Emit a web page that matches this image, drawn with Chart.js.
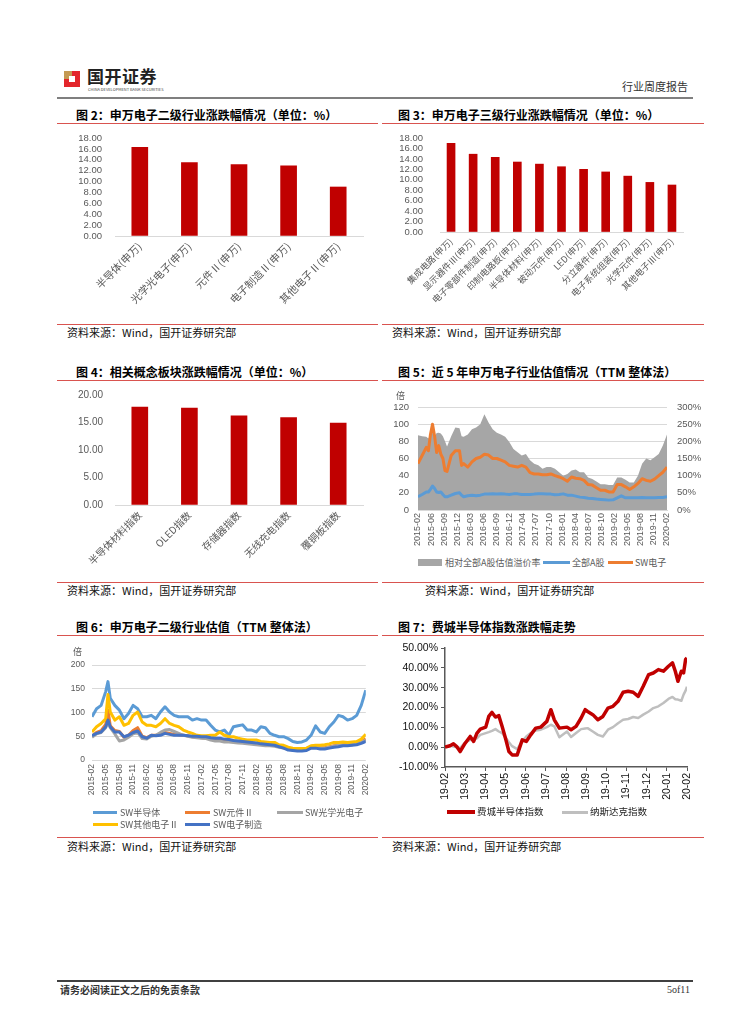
<!DOCTYPE html>
<html><head><meta charset="utf-8">
<script src="https://cdn.jsdelivr.net/npm/chart.js@4.4.0/dist/chart.umd.min.js"></script>
<style>
body{margin:0;background:#fff;}
#page{position:relative;width:754px;height:1024px;overflow:hidden;font-family:'Noto Sans CJK SC',sans-serif;background:#fff;}
.title{position:absolute;font-size:12px;font-weight:bold;color:#000;white-space:nowrap;line-height:14px;}
.rl{position:absolute;height:1px;background:#D9534F;}
.src{position:absolute;font-size:11px;color:#111;white-space:nowrap;line-height:13px;}
canvas{position:absolute;}
.lg{position:absolute;font-size:9px;color:#595959;white-space:nowrap;line-height:11px;}
.sw{position:absolute;}
</style></head><body><div id="page">

<!-- header -->
<div style="position:absolute;left:64px;top:71px;width:16px;height:16px;background:#C49A53;"></div>
<div style="position:absolute;left:72px;top:71px;width:8px;height:16px;background:#E3262B;"></div>
<div style="position:absolute;left:64px;top:79px;width:8px;height:8px;background:#E3262B;"></div>
<div style="position:absolute;left:69px;top:76px;width:6px;height:6px;background:#fff;"></div>
<div style="position:absolute;left:87px;top:66px;font-size:17px;font-weight:bold;color:#222;line-height:20px;letter-spacing:0.5px;white-space:nowrap;">国开证券</div>
<div style="position:absolute;left:88px;top:87px;font-size:4px;color:#444;line-height:5px;white-space:nowrap;">CHINA DEVELOPMENT BANK SECURITIES</div>
<div style="position:absolute;left:622px;top:80px;font-size:11px;color:#333;line-height:13px;white-space:nowrap;">行业周度报告</div>
<div style="position:absolute;left:57px;top:97px;width:636px;height:2px;background:#7F7F7F;"></div>

<!-- titles and rules -->
<div class="title" style="left:76px;top:108px;">图 2：申万电子二级行业涨跌幅情况（单位：%）</div>
<div class="title" style="left:398px;top:108px;">图 3：申万电子三级行业涨跌幅情况（单位：%）</div>
<div class="rl" style="left:57px;top:123px;width:321px;"></div>
<div class="rl" style="left:382px;top:123px;width:322px;"></div>
<div class="rl" style="left:57px;top:324px;width:321px;"></div>
<div class="rl" style="left:382px;top:324px;width:322px;"></div>
<div class="src" style="left:67px;top:326px;">资料来源：Wind，国开证券研究部</div>
<div class="src" style="left:392px;top:326px;">资料来源：Wind，国开证券研究部</div>

<div class="title" style="left:76px;top:365px;">图 4：相关概念板块涨跌幅情况（单位：%）</div>
<div class="title" style="left:398px;top:365px;">图 5：近 5 年申万电子行业估值情况（TTM 整体法）</div>
<div class="rl" style="left:57px;top:380px;width:321px;"></div>
<div class="rl" style="left:382px;top:380px;width:322px;"></div>
<div class="rl" style="left:57px;top:582px;width:321px;"></div>
<div class="rl" style="left:382px;top:582px;width:322px;"></div>
<div class="src" style="left:67px;top:584px;">资料来源：Wind，国开证券研究部</div>
<div class="src" style="left:425px;top:584px;">资料来源：Wind，国开证券研究部</div>

<div class="title" style="left:76px;top:620px;">图 6：申万电子二级行业估值（TTM 整体法）</div>
<div class="title" style="left:398px;top:620px;">图 7：费城半导体指数涨跌幅走势</div>
<div class="rl" style="left:57px;top:635px;width:321px;"></div>
<div class="rl" style="left:382px;top:635px;width:322px;"></div>
<div class="rl" style="left:57px;top:837px;width:321px;"></div>
<div class="rl" style="left:382px;top:837px;width:322px;"></div>
<div class="src" style="left:67px;top:840px;">资料来源：Wind，国开证券研究部</div>
<div class="src" style="left:392px;top:840px;">资料来源：Wind，国开证券研究部</div>

<!-- canvases -->
<canvas id="c2" width="320" height="188" style="left:60px;top:128px;"></canvas>
<canvas id="c3" width="320" height="184" style="left:380px;top:128px;"></canvas>
<canvas id="c4" width="320" height="195" style="left:60px;top:385px;"></canvas>
<canvas id="c5" width="330" height="153" style="left:380px;top:397px;"></canvas>
<canvas id="c6" width="320" height="145" style="left:60px;top:655px;"></canvas>
<canvas id="c7" width="330" height="165" style="left:380px;top:638px;"></canvas>

<!-- unit labels -->
<div class="lg" style="left:396px;top:390px;">倍</div>
<div class="lg" style="left:73px;top:646px;">倍</div>

<!-- fig 5 legend -->
<div class="sw" style="left:418px;top:559px;width:24px;height:7px;background:#A6A6A6;"></div>
<div class="lg" style="left:445px;top:557px;">相对全部A股估值溢价率</div>
<div class="sw" style="left:543px;top:561px;width:27px;height:3px;background:#5B9BD5;"></div>
<div class="lg" style="left:572px;top:557px;">全部A股</div>
<div class="sw" style="left:608px;top:561px;width:25px;height:3px;background:#ED7D31;"></div>
<div class="lg" style="left:635px;top:557px;">SW电子</div>

<!-- fig 6 legend -->
<div class="sw" style="left:93px;top:811px;width:24px;height:3px;background:#5B9BD5;"></div>
<div class="lg" style="left:120px;top:807px;">SW半导体</div>
<div class="sw" style="left:185px;top:811px;width:25px;height:3px;background:#ED7D31;"></div>
<div class="lg" style="left:213px;top:807px;">SW元件Ⅱ</div>
<div class="sw" style="left:277px;top:811px;width:26px;height:3px;background:#A5A5A5;"></div>
<div class="lg" style="left:305px;top:807px;">SW光学光电子</div>
<div class="sw" style="left:93px;top:823px;width:25px;height:3px;background:#FFC000;"></div>
<div class="lg" style="left:120px;top:819px;">SW其他电子Ⅱ</div>
<div class="sw" style="left:185px;top:823px;width:25px;height:3px;background:#4472C4;"></div>
<div class="lg" style="left:213px;top:819px;">SW电子制造</div>

<!-- fig 7 legend -->
<div class="sw" style="left:447px;top:810px;width:28px;height:4px;background:#C00000;"></div>
<div class="lg" style="left:477px;top:806px;font-size:9.5px;color:#222;">费城半导体指数</div>
<div class="sw" style="left:562px;top:811px;width:26px;height:3px;background:#BFBFBF;"></div>
<div class="lg" style="left:590px;top:806px;font-size:9.5px;color:#222;">纳斯达克指数</div>

<!-- footer -->
<div style="position:absolute;left:57px;top:980px;width:636px;height:2px;background:#404040;"></div>
<div style="position:absolute;left:60px;top:984px;font-size:10px;font-weight:bold;color:#333;line-height:12px;white-space:nowrap;">请务必阅读正文之后的免责条款</div>
<div style="position:absolute;right:64px;top:984px;font-size:10px;color:#333;line-height:12px;font-family:'Liberation Serif',serif;white-space:nowrap;">5of11</div>

</div>
<script>
const CJK = "'Noto Sans CJK SC', sans-serif";
const LAT = "'Liberation Sans', Arial, sans-serif";

// ---- Figure 2 ----
const fig2Categories = ['半导体(申万)','光学光电子(申万)','元件Ⅱ(申万)','电子制造Ⅱ(申万)','其他电子Ⅱ(申万)'];
const fig2Values = [16.3, 13.5, 13.1, 12.9, 9.0];

// ---- Figure 3 ----
const fig3Categories = ['集成电路(申万)','显示器件Ⅲ(申万)','电子零部件制造(申万)','印制电路板(申万)','半导体材料(申万)','被动元件(申万)','LED(申万)','分立器件(申万)','电子系统组装(申万)','光学元件(申万)','其他电子Ⅲ(申万)'];
const fig3Values = [17.0, 14.9, 14.3, 13.4, 13.0, 12.5, 12.0, 11.5, 10.7, 9.5, 9.0];

// ---- Figure 4 ----
const fig4Categories = ['半导体材料指数','OLED指数','存储器指数','无线充电指数','覆铜板指数'];
const fig4Values = [17.8, 17.6, 16.2, 15.9, 14.9];

// ---- Figure 5 (months since 2015-02) ----
const fig5TickLabels = ['2015-02','2015-06','2015-09','2015-12','2016-03','2016-06','2016-09','2016-12','2017-04','2017-07','2017-10','2018-01','2018-04','2018-07','2018-10','2019-02','2019-05','2019-08','2019-11','2020-02'];
const fig5Months = [0,1,2,2.5,3,3.5,4,4.5,5,5.5,6,6.5,7,8,9,10,10.5,11,
  12,13,14,15,16,17,18,19,20,21,22,23,24,25,26,27,28,29,30,31,32,33,34,35,36,37,38,39,40,41,42,43,44,45,46,47,48,49,50,51,52,53,54,55,56,57,58,59,60];
const fig5Premium = [218,215,213,208,220,225,213,224,225,223,215,200,185,215,240,238,215,213,
  220,235,240,250,279,255,235,225,220,213,198,178,168,159,163,145,135,130,120,125,125,120,110,100,105,115,118,110,110,95,90,83,75,75,73,73,95,95,88,80,80,100,135,150,145,154,163,188,220];
const fig5AllA = [15.4,18,21,21,24,28,25,21,20.4,21,18,15.4,15.4,17.3,19.2,20,17.3,15.4,
  16.5,17.3,16.5,17.3,18.5,18.5,18.8,18.5,18.8,18.5,18,18.8,18.8,18,18,18,18.5,18.8,18.8,18.5,18.5,17.7,18,18.8,17.3,17.3,16.2,15,14.6,13.8,13.5,12.7,12.3,11.9,11.5,11.9,14.2,16.5,14.2,14.2,14.2,14.2,14.6,14.2,14.2,14.2,14.6,14.6,15.4];
const fig5SW = [54,63.5,73,69,88,100,86,67,75,65,60,46,45,63.5,69,69,52,54,
  50,56,60,61.5,65,64,60,60,58,56,52,51,50,52,50,43.5,42,42,41,41,42,40,38.5,36.5,33.5,38.5,37,36.5,34.5,29.6,29,26,23,23,21,21,29.6,29.6,27,24,27,31,36.5,34.5,33.5,36,40,44,50];

// ---- Figure 6 (months since 2015-02) ----
const fig6TickLabels = ['2015-02','2015-05','2015-08','2015-11','2016-02','2016-05','2016-08','2016-11','2017-02','2017-05','2017-08','2017-11','2018-02','2018-05','2018-08','2018-11','2019-02','2019-05','2019-08','2019-11','2020-02'];
const fig6Months = [0,1,2,3,3.5,4,5,6,7,8,9,10,11,12,13,14,15,16,17,18,19,20,21,22,23,24,25,26,27,28,29,30,31,32,33,34,35,36,37,38,39,40,41,42,43,44,45,46,47,48,49,50,51,52,53,54,55,56,57,58,59,60];
const fig6Semi = [91,108,115,144,165,130,
  115,105,87,98,115,108,91,91,94,87,
  101,112,101,94,91,91,91,84,87,84,
  84,73,63,59,63,52,70,72,74,63,
  63,59,70,68,56,52,49,49,45,39,
  37,38,42,52,72,59,56,70,80,94,
  91,84,87,94,115,147];
const fig6Comp = [50,58,62,75,105,72,
  62,60,48,52,62,68,50,47,52,52,
  54,58,56,54,53,52,51,49,48,47,
  46,45,44,43,41,40,40,39,38,37,
  36,35,34,33,33,32,30,27,24,22,
  21,21,22,27,28,26,26,28,30,31,
  32,33,33,35,38,45];
const fig6Opto = [48,55,58,68,80,68,
  55,40,42,48,55,58,45,44,50,52,
  58,63,64,60,56,52,50,48,47,46,
  45,42,40,40,38,38,37,36,35,34,
  33,32,31,30,30,29,27,25,23,21,
  20,20,21,26,28,25,25,27,29,31,
  31,32,32,34,37,42];
const fig6Other = [59,70,77,87,138,101,
  84,91,73,77,94,101,80,73,73,70,
  77,87,77,73,70,63,59,56,52,51,
  51,52,52,59,52,49,49,46,44,42,
  42,42,39,38,37,37,32,31,27,25,
  24,24,25,30,31,31,32,34,37,37,
  38,37,38,39,44,54];
const fig6Mfg = [51,56,59,70,84,70,
  59,59,49,52,58,61,49,46,52,51,
  52,56,54,52,52,52,51,50,50,49,
  49,47,46,46,44,43,41,40,39,38,
  37,36,34,33,32,31,28,25,21,20,
  19,19,20,25,25,23,23,25,27,28,
  30,30,31,32,35,39];

// ---- Figure 7 (months since 2019-02) ----
const fig7TickLabels = ['19-02','19-03','19-04','19-05','19-06','19-07','19-08','19-09','19-10','19-11','19-12','20-01','20-02'];
const fig7Months = [0,0.25,0.42,0.58,0.75,1.0,1.25,1.42,1.58,1.75,2.02,2.17,2.33,2.5,2.67,2.83,3.02,3.17,3.33,3.58,3.83,4.03,4.25,4.5,4.75,5.05,5.25,5.42,5.67,6.05,6.25,6.5,6.75,6.95,7.07,7.33,7.58,7.83,8.08,8.33,8.58,8.83,9.08,9.33,9.58,9.83,10.1,10.33,10.58,10.83,11.08,11.28,11.42,11.55,11.72,11.83,11.93,12.0];
const fig7SOX = [0,0.7,1.7,0.3,-2.2,2,5.4,2.9,7,9.1,10.1,15.5,17.5,15.2,15.9,10.5,3.7,-2.2,-3.9,-3.9,3.7,2.9,6.2,9.6,10.1,13,18.9,13.8,9.6,10.1,8.8,10.5,14.7,18.9,18,16.4,13.8,15.5,19.7,20.6,23.1,27.7,28.2,27.7,25.6,30.7,36.6,37.4,39.1,38.3,40.8,42.5,38.3,33.2,38.3,37.4,44.2,45];
const fig7Nasdaq = [0,0.7,0.3,0,-0.5,2.4,3.7,3.9,4.5,6.2,7.1,7.6,8.2,9.1,7.9,7.1,4.6,2.5,0.5,-1.0,3.0,5.4,7.1,8.4,8.8,10.1,11.3,10.5,5.0,7.9,5.1,7.1,9.1,9.4,9.6,7.9,6.2,5.4,8.8,10.1,12.1,13.8,14.2,15.2,14.7,16.4,18,19.7,20.6,22.3,24.3,25.3,24.2,24,23.4,26.5,28.5,30.5];

const pts = (xs, ys) => xs.map((x, i) => ({x: x, y: ys[i]}));
const base = {responsive:false, animation:false, plugins:{legend:{display:false}, tooltip:{enabled:false}}};
// invisible tick marks used only to offset the value labels from the plot edge
const hiddenTicks = len => ({display: true, drawOnChartArea: false, drawTicks: true, tickLength: len, color: 'rgba(0,0,0,0)'});
const gridWithGap = len => ({display: true, color: '#D9D9D9', drawTicks: true, tickLength: len, tickColor: 'rgba(0,0,0,0)'});

function barChart(id, labels, values, o) {
  new Chart(document.getElementById(id), {
    type: 'bar',
    data: {labels: labels, datasets: [{data: values, backgroundColor: '#C00000', barThickness: o.bar}]},
    options: Object.assign({}, base, {
      layout: {padding: {top: 10, right: 17, left: 0, bottom: 0}},
      scales: {
        x: {grid: {display: false, drawTicks: false}, border: {display: true, color: '#D9D9D9'},
            ticks: {autoSkip: false, minRotation: 45, maxRotation: 45, padding: o.xpad, color: '#595959', font: {family: CJK, size: o.xfont}},
            afterFit: s => { s.height = o.xh; }},
        y: {min: 0, max: o.max, grid: hiddenTicks(o.ypad), border: {display: false},
            ticks: {autoSkip: false, stepSize: o.step, padding: 0, color: '#595959', font: {family: LAT, size: o.yfont}, callback: v => v.toFixed(2)},
            afterFit: s => { s.width = o.yw; }}
      }
    })
  });
}

barChart('c2', fig2Categories, fig2Values, {bar: 16, xpad: 4, xfont: 10.5, xh: 80, max: 18, step: 2, ypad: 13, yfont: 9.5, yw: 55});
barChart('c3', fig3Categories, fig3Values, {bar: 8, xpad: 4, xfont: 9, xh: 80, max: 18, step: 2, ypad: 17, yfont: 9.5, yw: 60});
barChart('c4', fig4Categories, fig4Values, {bar: 16, xpad: 4, xfont: 10, xh: 75, max: 20, step: 5, ypad: 12, yfont: 10, yw: 55});

function spacedTicks(labels, maxV) {
  return s => { s.ticks = labels.map((t, i) => ({value: i * maxV / (labels.length - 1)})); };
}

// Figure 5
new Chart(document.getElementById('c5'), {
  type: 'line',
  data: {datasets: [
    {label: 'SW电子', data: pts(fig5Months, fig5SW), borderColor: '#ED7D31', borderWidth: 3, pointRadius: 0, yAxisID: 'y', order: 1, borderJoinStyle: 'round'},
    {label: '全部A股', data: pts(fig5Months, fig5AllA), borderColor: '#5B9BD5', borderWidth: 3, pointRadius: 0, yAxisID: 'y', order: 2, borderJoinStyle: 'round'},
    {label: '相对全部A股估值溢价率', data: pts(fig5Months, fig5Premium), borderColor: '#A6A6A6', backgroundColor: '#A6A6A6', borderWidth: 0, pointRadius: 0, fill: 'origin', yAxisID: 'y2', order: 3}
  ]},
  options: Object.assign({}, base, {
    layout: {padding: {top: 10, right: 0, left: 0, bottom: 0}},
    scales: {
      x: {type: 'linear', min: 0, max: 60, afterBuildTicks: spacedTicks(fig5TickLabels, 60),
          grid: {display: false, drawTicks: false}, border: {display: true, color: '#D9D9D9'},
          ticks: {autoSkip: false, minRotation: 90, maxRotation: 90, padding: 3, color: '#595959', font: {family: LAT, size: 9}, callback: (v, i) => fig5TickLabels[i]},
          afterFit: s => { s.height = 40; }},
      y: {position: 'left', min: 0, max: 120, grid: gridWithGap(9), border: {display: false},
          ticks: {autoSkip: false, stepSize: 20, padding: 0, color: '#595959', font: {family: LAT, size: 9.5}},
          afterFit: s => { s.width = 38; }},
      y2: {position: 'right', min: 0, max: 300, grid: hiddenTicks(10), border: {display: false},
          ticks: {autoSkip: false, stepSize: 50, padding: 0, color: '#595959', font: {family: LAT, size: 9.5}, callback: v => v + '%'},
          afterFit: s => { s.width = 43; }}
    }
  })
});

// Figure 6
function l6(label, ys, color, order) {
  return {label: label, data: pts(fig6Months, ys), borderColor: color, borderWidth: 3, pointRadius: 0, order: order, borderJoinStyle: 'round'};
}
new Chart(document.getElementById('c6'), {
  type: 'line',
  data: {datasets: [
    l6('SW电子制造', fig6Mfg, '#4472C4', 1),
    l6('SW其他电子Ⅱ', fig6Other, '#FFC000', 2),
    l6('SW光学光电子', fig6Opto, '#A5A5A5', 3),
    l6('SW元件Ⅱ', fig6Comp, '#ED7D31', 4),
    l6('SW半导体', fig6Semi, '#5B9BD5', 5)
  ]},
  options: Object.assign({}, base, {
    layout: {padding: {top: 10, right: 12, left: 0, bottom: 0}},
    scales: {
      x: {type: 'linear', min: 0, max: 60, afterBuildTicks: spacedTicks(fig6TickLabels, 60),
          grid: {display: false, drawTicks: false}, border: {display: false},
          ticks: {autoSkip: false, minRotation: 90, maxRotation: 90, padding: 4, color: '#595959', font: {family: LAT, size: 8.5}, callback: (v, i) => fig6TickLabels[i]},
          afterFit: s => { s.height = 40; }},
      y: {min: 0, max: 200, grid: gridWithGap(7), border: {display: false},
          ticks: {autoSkip: false, stepSize: 50, padding: 0, color: '#595959', font: {family: LAT, size: 8.5}},
          afterFit: s => { s.width = 32; }}
    }
  })
});

// Figure 7
new Chart(document.getElementById('c7'), {
  type: 'line',
  data: {datasets: [
    {label: '费城半导体指数', data: pts(fig7Months, fig7SOX), borderColor: '#C00000', borderWidth: 3.5, pointRadius: 0, order: 1, borderJoinStyle: 'round'},
    {label: '纳斯达克指数', data: pts(fig7Months, fig7Nasdaq), borderColor: '#BFBFBF', borderWidth: 2.5, pointRadius: 0, order: 2, borderJoinStyle: 'round'}
  ]},
  options: Object.assign({}, base, {
    layout: {padding: {top: 10, right: 23, left: 0, bottom: 0}},
    scales: {
      x: {type: 'linear', min: 0, max: 12, afterBuildTicks: spacedTicks(fig7TickLabels, 12),
          grid: {display: true, drawOnChartArea: false, drawTicks: true, tickLength: 4, color: '#595959'},
          border: {display: true, color: '#595959', width: 1.5},
          ticks: {autoSkip: false, minRotation: 90, maxRotation: 90, padding: 2, color: '#111', font: {family: LAT, size: 10.5}, callback: (v, i) => fig7TickLabels[i]},
          afterFit: s => { s.height = 36; }},
      y: {min: -10, max: 50,
          grid: {display: true, drawOnChartArea: false, drawTicks: true, tickLength: 4, color: '#595959'},
          border: {display: true, color: '#595959', width: 1.5},
          ticks: {autoSkip: false, stepSize: 10, padding: 3, color: '#111', font: {family: LAT, size: 10.5}, callback: v => v.toFixed(2) + '%'},
          afterFit: s => { s.width = 65; }}
    }
  })
});
</script>
</body></html>
